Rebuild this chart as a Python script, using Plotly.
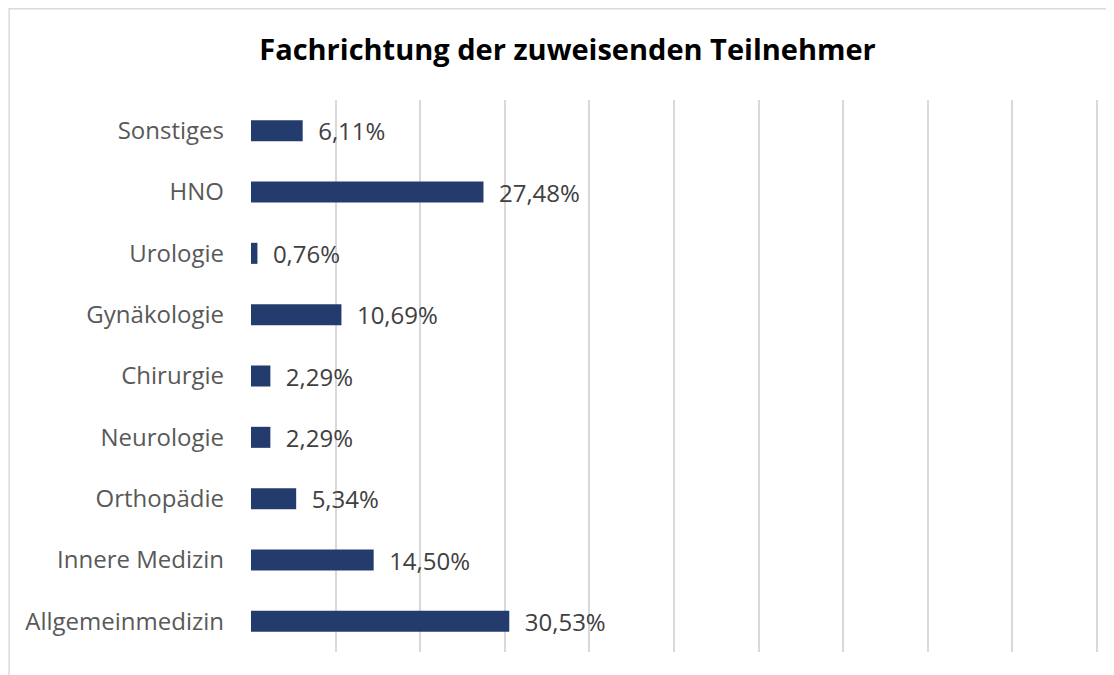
import plotly.graph_objects as go

categories = ["Allgemeinmedizin", "Innere Medizin", "Orthopädie", "Neurologie",
              "Chirurgie", "Gynäkologie", "Urologie", "HNO", "Sonstiges"]
values = [30.53, 14.50, 5.34, 2.29, 2.29, 10.69, 0.76, 27.48, 6.11]
labels = [f"{v:.2f}%".replace(".", ",") for v in values]
title_text = "Fachrichtung der zuweisenden Teilnehmer"

# page has an 8px body margin; figure is drawn from (8,8)
W, H = 1106, 667
L, R, T, B = 243, 15.5, 92, 23

fig = go.Figure(go.Bar(
    y=categories, x=values, orientation="h",
    marker=dict(color="#243C6D", line=dict(width=0)),
    text=labels, texttemplate="\u00a0\u00a0%{text}",
    textposition="outside", cliponaxis=False, constraintext="none",
    textfont=dict(family="Open Sans", size=24, color="#404040"),
    hoverinfo="skip",
))

pw = W - L - R
ph = H - T - B
fig.add_shape(type="rect", xref="paper", yref="paper",
              x0=(1 - L) / pw, x1=(1130 - L) / pw,
              y0=(H - 700 - B) / ph, y1=(H - 0.75 - B) / ph,
              line=dict(color="#d9d9d9", width=1.5), fillcolor="rgba(0,0,0,0)",
              layer="below")

fig.update_layout(
    width=W, height=H,
    margin=dict(l=L, r=R, t=T, b=B, pad=0),
    paper_bgcolor="white", plot_bgcolor="white",
    bargap=0.657,
    showlegend=False,
    title=dict(text=title_text, x=559.5 / W, xanchor="center", xref="container",
               y=1 - 42 / H, yanchor="middle", yref="container",
               font=dict(family="Open Sans", size=29, color="#000000", weight="bold")),
    xaxis=dict(range=[0, 100.12], tick0=0, dtick=10, showgrid=True, gridcolor="#d9d9d9", gridwidth=1.5,
               showticklabels=False, zeroline=False, showline=False, ticks=""),
    yaxis=dict(showgrid=False, zeroline=False, showline=False, ticks="",
               ticklabelstandoff=26,
               tickfont=dict(family="Open Sans", size=24, color="#595959")),
    font=dict(family="Open Sans"),
)

fig.write_html("out.html", post_script="document.body.style.overflow='hidden';")
